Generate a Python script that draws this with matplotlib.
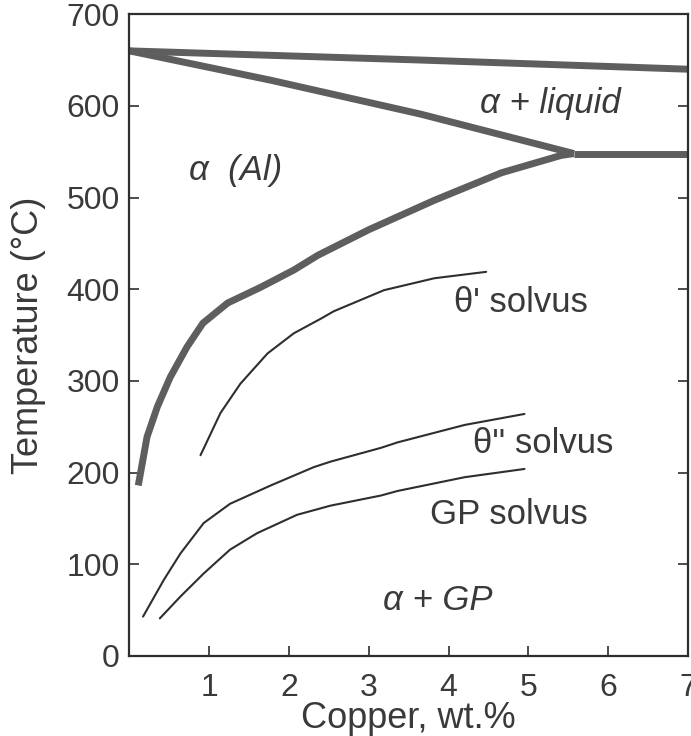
import matplotlib
matplotlib.use("Agg")
import matplotlib.pyplot as plt

plt.rcParams['font.family'] = ['Liberation Sans', 'DejaVu Sans']

# Liquidus
liq_x = [0.0, 3.65, 7.0]
liq_y = [660, 650, 640]
# Solidus
sol_x = [0.0, 1.77, 3.65, 5.57]
sol_y = [660, 628, 591, 548]
# Eutectic line
eut_x = [5.57, 7.0]
eut_y = [548, 548]
# Equilibrium solvus
solv_x = [0.11, 0.22, 0.35, 0.51, 0.72, 0.92, 1.23, 1.64, 2.06, 2.36, 3.0, 3.82, 4.66, 5.41, 5.57]
solv_y = [186, 239, 272, 304, 337, 363, 385, 402, 421, 437, 465, 497, 527, 546, 548]
# theta' solvus
tp_x = [0.89, 1.14, 1.39, 1.73, 2.06, 2.4, 2.56, 3.19, 3.82, 4.47]
tp_y = [219, 265, 297, 330, 352, 368, 376, 399, 412, 419]
# theta'' solvus
tpp_x = [0.17, 0.43, 0.64, 0.93, 1.26, 1.77, 2.31, 2.52, 3.15, 3.36, 4.2, 4.95]
tpp_y = [43, 83, 112, 145, 166, 186, 206, 212, 227, 233, 252, 264]
# GP solvus
gp_x = [0.38, 0.64, 0.93, 1.26, 1.6, 2.1, 2.52, 3.15, 3.36, 4.2, 4.95]
gp_y = [41, 65, 90, 116, 134, 154, 164, 175, 180, 195, 204]

x_ticks = [1, 2, 3, 4, 5, 6, 7]
y_ticks = [0, 100, 200, 300, 400, 500, 600, 700]

txt = '#3a3a3a'
thick = '#5e5e5e'
thin = '#2e2e2e'

fig = plt.figure(figsize=(6.91, 7.36), dpi=100)
ax = fig.add_axes([0.1874, 0.1087, 0.9957 - 0.1874, 0.9807 - 0.1087])

for xs, ys in [(liq_x, liq_y), (sol_x, sol_y), (eut_x, eut_y), (solv_x, solv_y)]:
    ax.plot(xs, ys, color=thick, lw=5.0, solid_capstyle='butt', solid_joinstyle='round')
for xs, ys in [(tp_x, tp_y), (tpp_x, tpp_y), (gp_x, gp_y)]:
    ax.plot(xs, ys, color=thin, lw=1.5, solid_capstyle='round', solid_joinstyle='round')

ax.set_xlim(0, 7)
ax.set_ylim(0, 700)
ax.set_xticks(x_ticks)
ax.set_yticks(y_ticks)
ax.tick_params(axis='both', direction='in', length=7, width=1.2, colors=thin,
               labelsize=23, labelcolor=txt)
ax.tick_params(axis='x', pad=12)
ax.tick_params(axis='y', pad=7, right=True)
for s in ax.spines.values():
    s.set_linewidth(1.6)
    s.set_color(thin)

ax.set_xlabel('Copper, wt.%', fontsize=26, color=txt)
ax.set_ylabel('Temperature (°C)', fontsize=26, color=txt)
ax.xaxis.set_label_coords(0.5, -0.070)
ax.yaxis.set_label_coords(-0.150, 0.5)

fs = 25
ax.text(1.33, 530, 'α  (Al)', fontsize=fs, style='italic', color=txt, ha='center', va='center')
ax.text(5.28, 603, 'α + liquid', fontsize=fs, style='italic', color=txt, ha='center', va='center')
ax.text(4.91, 386, "θ' solvus", fontsize=fs, color=txt, ha='center', va='center')
ax.text(5.18, 232, "θ'' solvus", fontsize=fs, color=txt, ha='center', va='center')
ax.text(4.75, 154, 'GP solvus', fontsize=fs, color=txt, ha='center', va='center')
ax.text(3.86, 61, 'α + GP', fontsize=fs, style='italic', color=txt, ha='center', va='center')

fig.savefig('out.png', dpi=100)
